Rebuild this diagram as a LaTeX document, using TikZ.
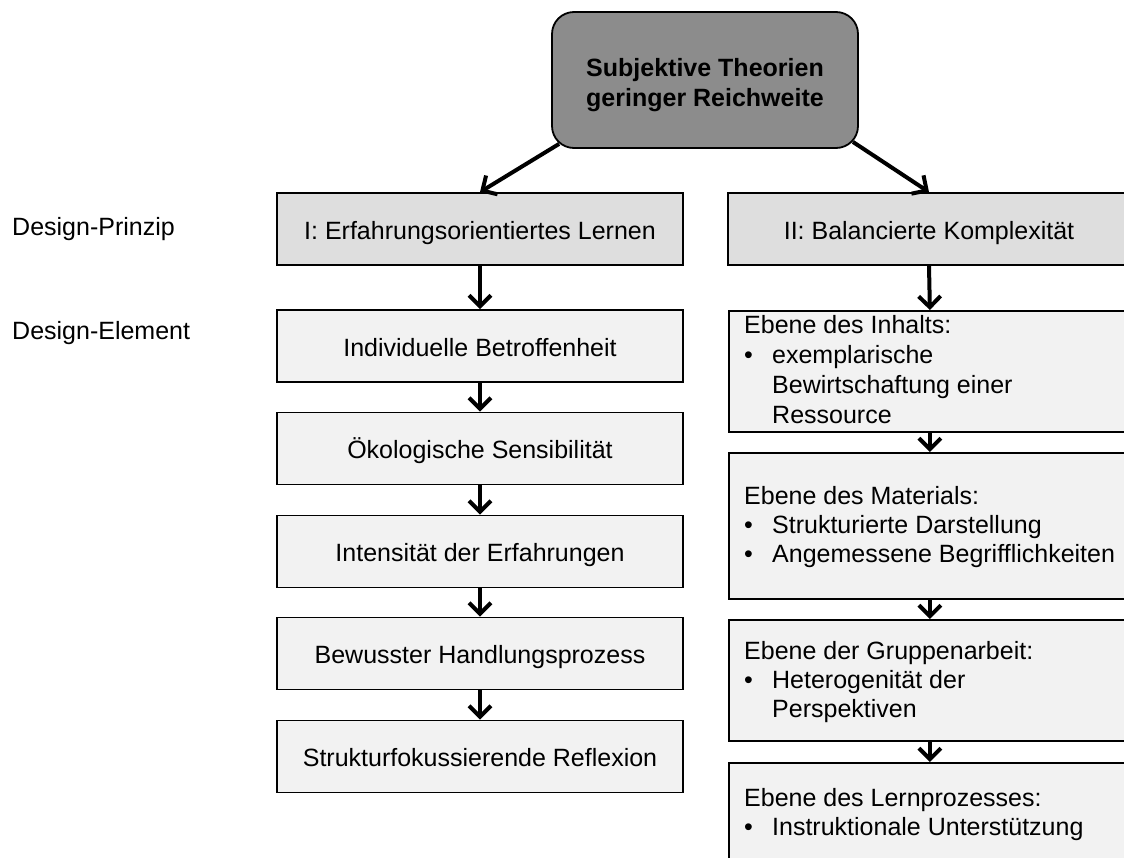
\documentclass[tikz,border=0pt]{standalone}
\usepackage{fontspec}
\setmainfont{Liberation Sans}
\usetikzlibrary{arrows.meta,calc}
\definecolor{topgray}{HTML}{8C8C8C}
\definecolor{pgray}{HTML}{DEDEDE}
\definecolor{egray}{HTML}{F2F2F2}
\begin{document}
\begin{tikzpicture}[x=1pt,y=-1pt,
  every node/.style={font=\fontsize{25}{29}\selectfont},
  box/.style={draw=black, line width=1.8pt, rectangle, inner sep=0pt},
  prinzip/.style={box, fill=pgray, minimum height=72pt, text height=20pt, text depth=0pt},
  lelem/.style={box, fill=egray, minimum width=406pt, minimum height=72pt, text height=20pt, text depth=0pt},
  relem/.style={box, fill=egray, minimum width=402pt, anchor=north west},
  rtext/.style={anchor=west, align=left, inner sep=0pt},
  side/.style={anchor=west, inner sep=0pt},
  arr/.style={line width=4pt, -{Straight Barb[length=11pt,width=22pt]}}
]
\useasboundingbox (0,0) rectangle (1124,857);
\clip (0,0) rectangle (1124,857);

% top box
\node[box, fill=topgray, rounded corners=22pt, minimum width=306pt, minimum height=136pt] (top) at (705,80) {};
\node[align=center, inner sep=0pt, font=\bfseries\fontsize{25}{30}\selectfont] (toptext) at (705,85) {Subjektive Theorien\\geringer Reichweite};

% side labels
\node[side] (lprinzip) at (12,229) {Design-Prinzip};
\node[side] (lelement) at (12,333) {Design-Element};

% principles
\node[prinzip, minimum width=406pt] (p1) at (480,229) {I: Erfahrungsorientiertes Lernen};
\node[prinzip, minimum width=402pt] (p2) at (929,229) {II: Balancierte Komplexität};

% left elements
\node[lelem] (e1) at (480,346) {Individuelle Betroffenheit};
\node[lelem] (e2) at (480,448.5) {Ökologische Sensibilität};
\node[lelem] (e3) at (480,551.5) {Intensität der Erfahrungen};
\node[lelem] (e4) at (480,653.5) {Bewusster Handlungsprozess};
\node[lelem] (e5) at (480,756.5) {Strukturfokussierende Reflexion};

% right elements
\node[relem, minimum height=121pt] (r1) at (728,310) {};
\node[relem, minimum height=146pt] (r2) at (728,452) {};
\node[relem, minimum height=121pt] (r3) at (728,619) {};
\node[relem, minimum height=102pt] (r4) at (728,762) {};

\node[rtext, font=\fontsize{25}{30}\selectfont] (t1) at (744,370) {Ebene des Inhalts:\\\makebox[28pt][l]{\textbullet}exemplarische\\\hspace*{28pt}Bewirtschaftung einer\\\hspace*{28pt}Ressource};
\node[rtext] (t2) at (744,527.5) {Ebene des Materials:\\\makebox[28pt][l]{\textbullet}Strukturierte Darstellung\\\makebox[28pt][l]{\textbullet}Angemessene Begrifflichkeiten};
\node[rtext] (t3) at (744,682.5) {Ebene der Gruppenarbeit:\\\makebox[28pt][l]{\textbullet}Heterogenität der\\\hspace*{28pt}Perspektiven};
\node[rtext] (t4) at (744,815) {Ebene des Lernprozesses:\\\makebox[28pt][l]{\textbullet}Instruktionale Unterstützung};

% connectors
\draw[arr] ($(top.south west)+(8,-5)$) -- (p1.north);
\draw[arr] ($(top.south east)+(-6,-7)$) -- (p2.north);
\draw[arr] (p1.south) -- (e1.north);
\draw[arr] (e1.south) -- (e2.north);
\draw[arr] (e2.south) -- (e3.north);
\draw[arr] (e3.south) -- (e4.north);
\draw[arr] (e4.south) -- (e5.north);
\draw[arr] (p2.south) -- (r1.north);
\draw[arr] (r1.south) -- (r2.north);
\draw[arr] (r2.south) -- (r3.north);
\draw[arr] (r3.south) -- (r4.north);
\end{tikzpicture}
\end{document}
